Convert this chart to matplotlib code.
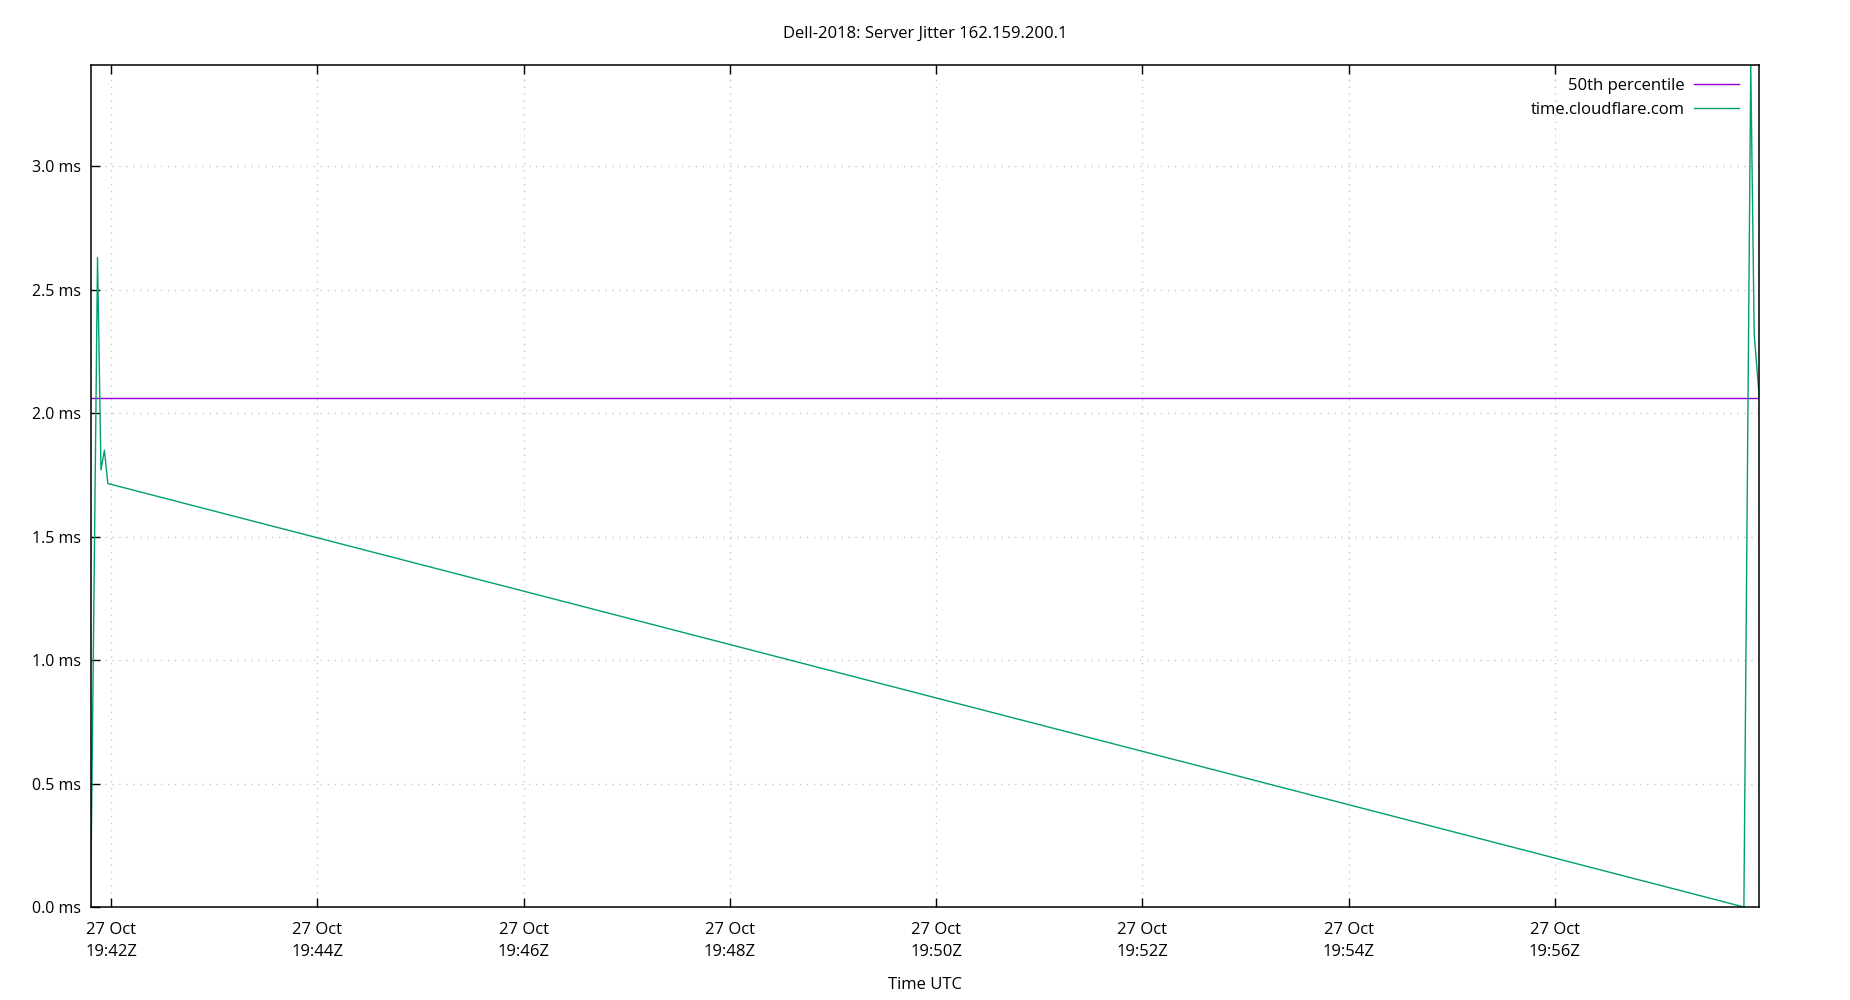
import numpy as np
import pandas as pd
import matplotlib
matplotlib.use('Agg')
import matplotlib.pyplot as plt
import matplotlib.dates as mdates

plt.rcParams['font.family'] = ['Open Sans', 'DejaVu Sans']
plt.rcParams['font.size'] = 12

# jitter samples for time.cloudflare.com (ms)
times = ['2023-10-27 19:41:48', '2023-10-27 19:41:52', '2023-10-27 19:41:54',
         '2023-10-27 19:41:56', '2023-10-27 19:41:58', '2023-10-27 19:57:50',
         '2023-10-27 19:57:54', '2023-10-27 19:57:56', '2023-10-27 19:57:59']
jitter = [0.0, 2.63, 1.77, 1.85, 1.715, 0.0, 3.41, 2.32, 2.06]
p50 = 2.062

title = 'Dell-2018: Server Jitter 162.159.200.1'
series_name = 'time.cloudflare.com'
p50_name = '50th percentile'

t = pd.to_datetime(times)

fig = plt.figure(figsize=(18.5, 10), dpi=100)
ax = fig.add_axes([0.049, 0.093, 0.902, 0.842])

ax.axhline(p50, color='#9400d3', lw=1.0, label=p50_name)
ax.plot(t, jitter, color='#009e73', lw=1.0, label=series_name)

ax.set_xlim(t[0], t[-1])
ax.set_ylim(0, max(jitter))

ax.yaxis.set_major_locator(plt.MultipleLocator(0.5))
ax.yaxis.set_major_formatter(plt.FuncFormatter(lambda v, p: '%.1f ms' % v))
ax.xaxis.set_major_locator(mdates.MinuteLocator(byminute=range(0, 60, 2)))
ax.xaxis.set_major_formatter(mdates.DateFormatter('%d %b\n%H:%MZ'))

ax.tick_params(axis='both', direction='in', length=6.5, width=1, labelsize=12)
ax.tick_params(axis='x', top=True, pad=11)
ax.tick_params(axis='y', right=False, pad=7, labelsize=11.5)
for lab in ax.get_xticklabels():
    lab.set_ha('center')
    lab.set_linespacing(1.5)

ax.grid(True, color='#c8c8c8', linestyle=(0, (1, 4)), lw=1)
for s in ax.spines.values():
    s.set_linewidth(1.1)

fig.text(0.5, 0.966, title, ha='center', va='center', fontsize=12)
ax.set_xlabel('Time UTC', fontsize=12, labelpad=12)

leg = ax.legend(loc='upper right', bbox_to_anchor=(0.9975, 1.003),
                markerfirst=False, frameon=False,
                handlelength=2.7, handletextpad=0.6, labelspacing=0.45,
                borderaxespad=0.55, fontsize=12)
for txt in leg.get_texts():
    txt.set_ha('right')
leg._legend_box.align = 'right'

fig.savefig('out.png', dpi=100)
